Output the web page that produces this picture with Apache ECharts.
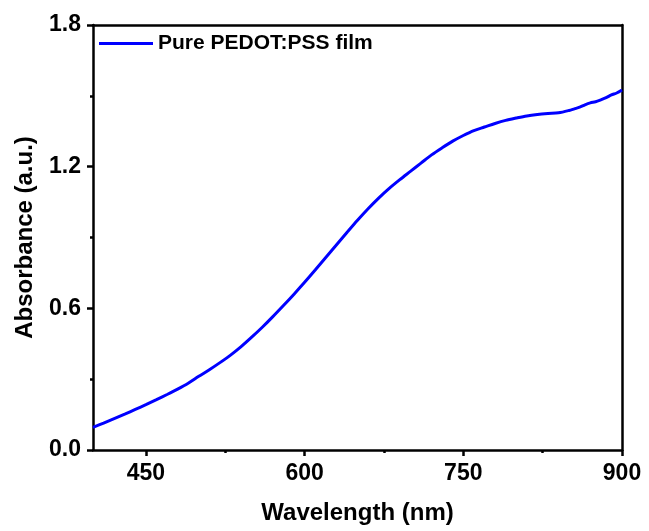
<!DOCTYPE html>
<html>
<head>
<meta charset="utf-8">
<title>Absorbance spectrum</title>
<script src="https://cdn.jsdelivr.net/npm/echarts@6/dist/echarts.min.js"></script>
<style>
  html, body { margin: 0; padding: 0; background: #fff; }
  #chart { width: 649px; height: 531px; }
</style>
</head>
<body>
<div id="chart"></div>
<script>
// UV-Vis-NIR absorbance of a pure PEDOT:PSS film
const wavelengths = [400, 410, 420, 430, 440, 450, 460, 470, 480, 490,
  500, 510, 520, 530, 540, 550, 560, 570, 580, 590,
  600, 610, 620, 630, 640, 650, 660, 670, 680, 690,
  700, 710, 720, 730, 740, 750, 760, 770, 780, 790,
  800, 810, 820, 830, 840, 850, 855, 860, 865, 870,
  875, 880, 885, 890, 895, 900];
const absorbance = [0.096, 0.114, 0.133, 0.152, 0.172, 0.192, 0.213, 0.235, 0.258, 0.283,
  0.312, 0.340, 0.370, 0.402, 0.438, 0.478, 0.520, 0.565, 0.612, 0.660,
  0.710, 0.762, 0.815, 0.868, 0.921, 0.973, 1.022, 1.067, 1.108, 1.145,
  1.180, 1.215, 1.250, 1.280, 1.308, 1.332, 1.353, 1.368, 1.383, 1.396,
  1.406, 1.415, 1.421, 1.425, 1.428, 1.438, 1.445, 1.452, 1.462, 1.470,
  1.475, 1.483, 1.492, 1.504, 1.512, 1.525];
const xMajorTicks = [450, 600, 750, 900];
const xMinorTicks = [525, 675, 825];
const seriesName = 'Pure PEDOT:PSS film';

const font = 'Liberation Sans, Arial, sans-serif';
const axisLine = { show: true, lineStyle: { color: '#000', width: 2.5 } };

const chart = echarts.init(document.getElementById('chart'), null, { renderer: 'canvas' });
chart.setOption({
  animation: false,
  backgroundColor: '#fff',
  grid: { left: 93, right: 27, top: 25, bottom: 81, containLabel: false },
  legend: {
    show: true,
    left: 99,
    top: 33,
    padding: 0,
    icon: 'rect',
    itemWidth: 54,
    itemHeight: 3,
    data: [seriesName],
    textStyle: { fontFamily: font, fontWeight: 'bold', fontSize: 21, color: '#000' }
  },
  xAxis: [
    {
      type: 'value',
      min: 400, max: 900,
      position: 'bottom',
      name: 'Wavelength (nm)',
      nameLocation: 'middle',
      nameGap: 51,
      nameTextStyle: { fontFamily: font, fontWeight: 'bold', fontSize: 24, color: '#000' },
      axisLine: axisLine,
      axisTick: { show: true, length: 6, inside: false, customValues: xMajorTicks,
        lineStyle: { color: '#000', width: 2.5 } },
      axisLabel: { show: true, customValues: xMajorTicks, margin: 12,
        fontFamily: font, fontWeight: 'bold', fontSize: 23, color: '#000' },
      splitLine: { show: false }
    },
    {
      type: 'value',
      min: 400, max: 900,
      position: 'bottom',
      axisLine: { show: false },
      axisTick: { show: true, length: 3, inside: false, customValues: xMinorTicks,
        lineStyle: { color: '#000', width: 2.5 } },
      axisLabel: { show: false },
      splitLine: { show: false }
    },
    {
      type: 'value',
      min: 400, max: 900,
      position: 'top',
      axisLine: axisLine,
      axisTick: { show: false },
      axisLabel: { show: false },
      splitLine: { show: false }
    }
  ],
  yAxis: [
    {
      type: 'value',
      min: 0, max: 1.8, interval: 0.6,
      position: 'left',
      name: 'Absorbance (a.u.)',
      nameLocation: 'middle',
      nameGap: 56,
      nameTextStyle: { fontFamily: font, fontWeight: 'bold', fontSize: 24, color: '#000' },
      axisLine: axisLine,
      axisTick: { show: true, length: 6, inside: false, lineStyle: { color: '#000', width: 2.5 } },
      minorTick: { show: true, splitNumber: 2, length: 3, lineStyle: { color: '#000', width: 2.5 } },
      axisLabel: { show: true, margin: 12, formatter: v => v.toFixed(1),
        fontFamily: font, fontWeight: 'bold', fontSize: 23, color: '#000' },
      splitLine: { show: false },
      minorSplitLine: { show: false }
    },
    {
      type: 'value',
      min: 0, max: 1.8,
      position: 'right',
      axisLine: axisLine,
      axisTick: { show: false },
      axisLabel: { show: false },
      splitLine: { show: false }
    }
  ],
  series: [
    {
      name: seriesName,
      type: 'line',
      xAxisIndex: 0,
      yAxisIndex: 0,
      data: wavelengths.map((w, i) => [w, absorbance[i]]),
      symbol: 'none',
      smooth: 0.3,
      lineStyle: { color: '#0000ff', width: 3 },
      itemStyle: { color: '#0000ff' }
    }
  ]
});
</script>
</body>
</html>
